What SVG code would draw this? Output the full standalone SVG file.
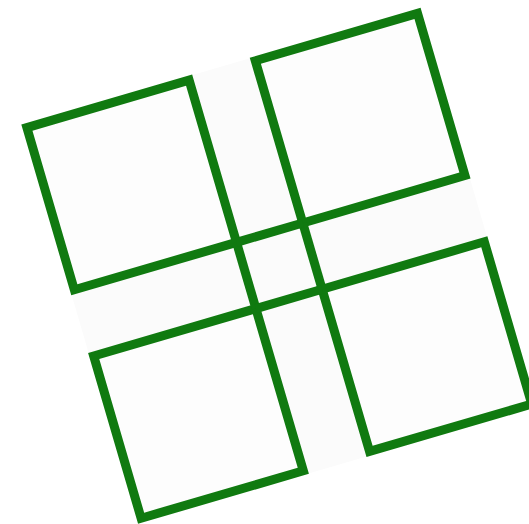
<svg xmlns="http://www.w3.org/2000/svg" width="529" height="524" viewBox="0 0 529 524">
  <style>
    .sq { fill: #fdfdfd; stroke: #107a10; stroke-width: 9; stroke-linejoin: miter; }
    .ln { stroke: #107a10; stroke-width: 9; stroke-linecap: butt; fill: none; }
    .bg { fill: #fbfbfb; }
  </style>
  <rect width="529" height="524" fill="#ffffff"/>
  <g transform="rotate(-16.3)">
    <rect class="bg" x="-14" y="126" width="415" height="415"/>
    <g id="square-top-left"><rect class="sq" x="-10" y="130" width="169" height="169"/></g>
    <g id="square-top-right"><rect class="sq" x="228" y="130" width="169" height="169"/></g>
    <g id="square-bottom-left"><rect class="sq" x="-10" y="368" width="169" height="169"/></g>
    <g id="square-bottom-right"><rect class="sq" x="228" y="368" width="169" height="169"/></g>
    <g id="center-lines">
      <line class="ln" x1="159" y1="299" x2="159" y2="368"/>
      <line class="ln" x1="228" y1="299" x2="228" y2="368"/>
      <line class="ln" x1="159" y1="299" x2="228" y2="299"/>
      <line class="ln" x1="159" y1="368" x2="228" y2="368"/>
    </g>
  </g>
</svg>
